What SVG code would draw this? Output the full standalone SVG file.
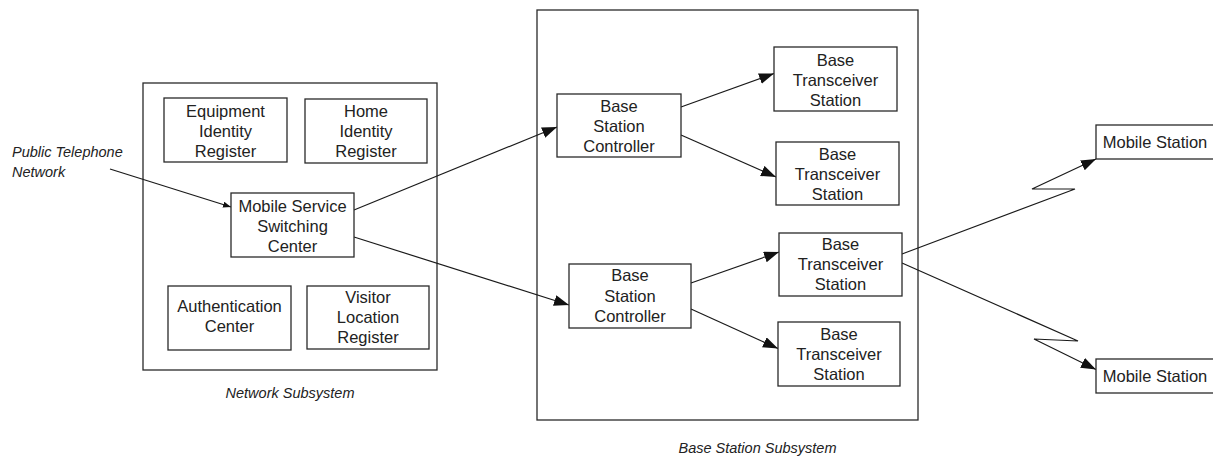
<svg xmlns="http://www.w3.org/2000/svg" width="1213" height="456" viewBox="0 0 1213 456">
<defs>
<style>
.box{fill:#fff;stroke:#2a2a2a;stroke-width:1.3}
.frame{fill:none;stroke:#2a2a2a;stroke-width:1.3}
.t{font-family:"Liberation Sans",Arial,sans-serif;font-size:16.5px;fill:#222;text-anchor:middle}
.lbl{font-family:"Liberation Sans",Arial,sans-serif;font-size:14.5px;font-style:italic;fill:#222}
.c{fill:none;stroke:#1a1a1a;stroke-width:1.2}
</style>
<marker id="ah" markerUnits="userSpaceOnUse" markerWidth="16" markerHeight="12" refX="15" refY="5.5" orient="auto">
<path d="M0,0 L15,5.5 L0,11 z" fill="#111"/>
</marker>
<marker id="ahs" markerUnits="userSpaceOnUse" markerWidth="9" markerHeight="7" refX="8" refY="3" orient="auto">
<path d="M0,0 L8,3 L0,6 z" fill="#111"/>
</marker>
</defs>
<rect width="1213" height="456" fill="#fff"/>

<g id="network-subsystem">
<rect class="frame" x="143" y="83" width="294" height="287"/>
<text class="lbl" x="290" y="398" text-anchor="middle">Network Subsystem</text>
</g>
<g id="base-station-subsystem">
<rect class="frame" x="537" y="10" width="381" height="410"/>
<text class="lbl" x="757.5" y="453" text-anchor="middle">Base Station Subsystem</text>
</g>
<g id="public-telephone-network">
<text class="lbl" x="12" y="157">Public Telephone</text>
<text class="lbl" x="12" y="177">Network</text>
</g>

<g id="connectors">
<line class="c" x1="110" y1="169" x2="231" y2="207" marker-end="url(#ahs)"/>
<line class="c" x1="354" y1="210" x2="557" y2="127" marker-end="url(#ah)"/>
<line class="c" x1="354" y1="237" x2="569" y2="305" marker-end="url(#ah)"/>
<line class="c" x1="681" y1="107" x2="774" y2="73.5" marker-end="url(#ah)"/>
<line class="c" x1="681" y1="135" x2="776" y2="177" marker-end="url(#ah)"/>
<line class="c" x1="691" y1="283" x2="779" y2="252" marker-end="url(#ah)"/>
<line class="c" x1="691" y1="309" x2="778" y2="348.5" marker-end="url(#ah)"/>
<polyline class="c" points="902,254 1075,189 1032,189 1096,159" marker-end="url(#ah)"/>
<polyline class="c" points="902,263 1078,341 1034,339 1096,369.5" marker-end="url(#ah)"/>
</g>

<g id="eir">
<rect class="box" x="164" y="98" width="123" height="64"/>
<text class="t" x="225.5" y="117">Equipment</text>
<text class="t" x="225.5" y="137">Identity</text>
<text class="t" x="225.5" y="157">Register</text>
</g>
<g id="hlr">
<rect class="box" x="305" y="99" width="122" height="64"/>
<text class="t" x="366" y="117">Home</text>
<text class="t" x="366" y="137">Identity</text>
<text class="t" x="366" y="157">Register</text>
</g>
<g id="msc">
<rect class="box" x="231" y="193" width="123" height="64"/>
<text class="t" x="292.5" y="212">Mobile Service</text>
<text class="t" x="292.5" y="232">Switching</text>
<text class="t" x="292.5" y="252">Center</text>
</g>
<g id="auc">
<rect class="box" x="168" y="286" width="123" height="64"/>
<text class="t" x="229.5" y="312">Authentication</text>
<text class="t" x="229.5" y="332">Center</text>
</g>
<g id="vlr">
<rect class="box" x="307" y="286" width="122" height="63"/>
<text class="t" x="368" y="303">Visitor</text>
<text class="t" x="368" y="323">Location</text>
<text class="t" x="368" y="343">Register</text>
</g>

<g id="bsc1">
<rect class="box" x="557" y="94" width="124" height="63"/>
<text class="t" x="619" y="112">Base</text>
<text class="t" x="619" y="132">Station</text>
<text class="t" x="619" y="152">Controller</text>
</g>
<g id="bts1">
<rect class="box" x="774" y="47" width="123" height="64"/>
<text class="t" x="835.5" y="66">Base</text>
<text class="t" x="835.5" y="86">Transceiver</text>
<text class="t" x="835.5" y="106">Station</text>
</g>
<g id="bts2">
<rect class="box" x="776" y="142" width="123" height="63"/>
<text class="t" x="837.5" y="160">Base</text>
<text class="t" x="837.5" y="180">Transceiver</text>
<text class="t" x="837.5" y="200">Station</text>
</g>
<g id="bsc2">
<rect class="box" x="569" y="264" width="122" height="64"/>
<text class="t" x="630" y="281">Base</text>
<text class="t" x="630" y="302">Station</text>
<text class="t" x="630" y="322">Controller</text>
</g>
<g id="bts3">
<rect class="box" x="779" y="233" width="123" height="63"/>
<text class="t" x="840.5" y="250">Base</text>
<text class="t" x="840.5" y="270">Transceiver</text>
<text class="t" x="840.5" y="290">Station</text>
</g>
<g id="bts4">
<rect class="box" x="778" y="322" width="122" height="64"/>
<text class="t" x="839" y="340">Base</text>
<text class="t" x="839" y="360">Transceiver</text>
<text class="t" x="839" y="380">Station</text>
</g>

<g id="ms1">
<rect class="box" x="1096" y="125" width="130" height="34"/>
<text class="t" x="1155" y="148">Mobile Station</text>
</g>
<g id="ms2">
<rect class="box" x="1096" y="359" width="130" height="34"/>
<text class="t" x="1155" y="382">Mobile Station</text>
</g>
</svg>
